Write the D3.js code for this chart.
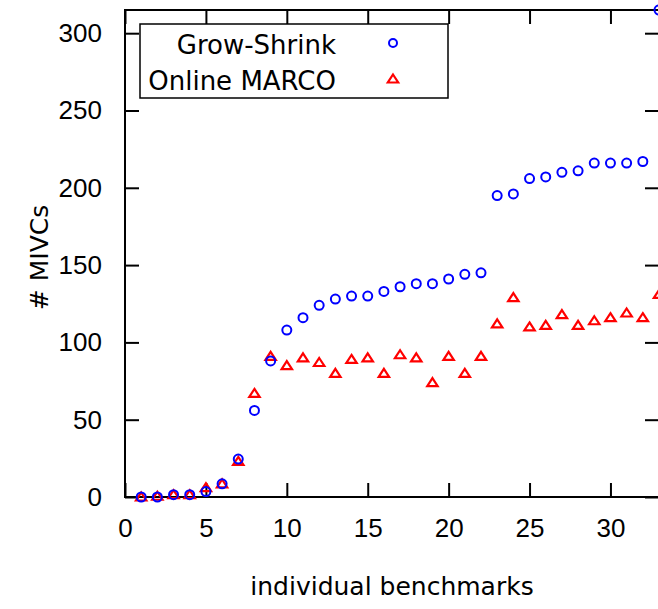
<!DOCTYPE html>
<html>
<head>
<meta charset="utf-8">
<script src="https://cdn.jsdelivr.net/npm/d3@7"></script>
<style>
  body { margin: 0; background: #fff; }
  svg { display: block; font-family: "DejaVu Sans", sans-serif; }
</style>
</head>
<body>
<div class="d3-content"></div>
<script>
const MARGIN = { top: 10, right: -1, bottom: 112, left: 125 };
const SVG_WIDTH = 658;
const SVG_HEIGHT = 609;

const CHART_WIDTH = SVG_WIDTH - MARGIN.left - MARGIN.right;
const CHART_HEIGHT = SVG_HEIGHT - MARGIN.top - MARGIN.bottom;

// benchmark index 1..33
const benchmarks = d3.range(1, 34);

const growShrink = [
  0, 0, 1.5, 1.5, 3.5, 8.5, 24.5, 56, 88, 108,
  116, 124, 128, 130, 130, 133, 136, 138, 138, 141,
  144, 145, 195, 196, 206, 207, 210, 211, 216, 216,
  216, 217, 315
];

const onlineMarco = [
  0, 0.5, 1.5, 1.5, 6, 8.5, 23, 67, 91, 85,
  90, 87, 80, 89, 90, 80, 92, 90, 74, 91,
  80, 91, 112, 129, 110, 111, 118, 111, 114, 116,
  119, 116, 131
];

const xTicks = [0, 5, 10, 15, 20, 25, 30];
const yTicks = [0, 50, 100, 150, 200, 250, 300];

const svg = d3.select('.d3-content')
  .append('svg')
  .attr('width', SVG_WIDTH)
  .attr('height', SVG_HEIGHT);

const xscale = d3.scaleLinear()
  .domain([0, 33])
  .range([0, CHART_WIDTH]);

const yscale = d3.scaleLinear()
  .domain([0, 315])
  .range([CHART_HEIGHT, 0]);

const chart = svg.append('g')
  .attr('transform', `translate(${MARGIN.left}, ${MARGIN.top})`);

// axes, ticks pointing inward (gnuplot style)
const styleAxis = g => {
  g.select('.domain').remove();
  g.selectAll('.tick line').attr('stroke', '#000').attr('stroke-width', 2);
  g.selectAll('.tick text').attr('font-size', 26).attr('fill', '#000');
};

chart.append('g')
  .attr('transform', `translate(0, ${CHART_HEIGHT})`)
  .call(d3.axisBottom(xscale).tickValues(xTicks).tickSize(-14).tickPadding(22))
  .call(styleAxis);

chart.append('g')
  .call(d3.axisTop(xscale).tickValues(xTicks).tickSize(-14).tickFormat(''))
  .call(styleAxis);

chart.append('g')
  .call(d3.axisLeft(yscale).tickValues(yTicks).tickSize(-14).tickPadding(23))
  .call(styleAxis);

chart.append('g')
  .attr('transform', `translate(${CHART_WIDTH}, 0)`)
  .call(d3.axisRight(yscale).tickValues(yTicks).tickSize(-14).tickFormat(''))
  .call(styleAxis);

// border
chart.append('rect')
  .attr('width', CHART_WIDTH)
  .attr('height', CHART_HEIGHT)
  .attr('fill', 'none')
  .attr('stroke', '#000')
  .attr('stroke-width', 2);

// axis labels
svg.append('text')
  .text('individual benchmarks')
  .attr('font-size', 25)
  .attr('text-anchor', 'middle')
  .attr('x', MARGIN.left + CHART_WIDTH / 2)
  .attr('y', 595);

svg.append('text')
  .text('# MIVCs')
  .attr('font-size', 25)
  .attr('text-anchor', 'middle')
  .attr('transform', `translate(48, ${MARGIN.top + CHART_HEIGHT / 2 + 4}) rotate(-90)`);

// flattened triangle like gnuplot's pointtype 8
const triangle = 'M0,-4.5L5.2,3.5L-5.2,3.5Z';

// Online MARCO
chart.append('g')
  .selectAll('path')
  .data(onlineMarco)
  .join('path')
  .attr('d', triangle)
  .attr('transform', (d, i) => `translate(${xscale(benchmarks[i])}, ${yscale(d)})`)
  .attr('fill', 'none')
  .attr('stroke', '#ff0000')
  .attr('stroke-width', 2.2);

// Grow-Shrink
chart.append('g')
  .selectAll('circle')
  .data(growShrink)
  .join('circle')
  .attr('cx', (d, i) => xscale(benchmarks[i]))
  .attr('cy', d => yscale(d))
  .attr('r', 4.5)
  .attr('fill', 'none')
  .attr('stroke', '#0000ff')
  .attr('stroke-width', 2);

// legend
const legend = svg.append('g');
legend.append('rect')
  .attr('x', 140).attr('y', 24)
  .attr('width', 308).attr('height', 74)
  .attr('fill', '#fff')
  .attr('stroke', '#000')
  .attr('stroke-width', 1.5);

legend.append('text')
  .text('Grow-Shrink')
  .attr('font-size', 26)
  .attr('text-anchor', 'end')
  .attr('x', 336).attr('y', 54);

legend.append('text')
  .text('Online MARCO')
  .attr('font-size', 26)
  .attr('text-anchor', 'end')
  .attr('x', 336).attr('y', 90);

legend.append('circle')
  .attr('cx', 393).attr('cy', 43).attr('r', 4)
  .attr('fill', 'none').attr('stroke', '#0000ff').attr('stroke-width', 2);

legend.append('path')
  .attr('d', triangle)
  .attr('transform', 'translate(393, 79)')
  .attr('fill', 'none').attr('stroke', '#ff0000').attr('stroke-width', 2.2);
</script>
</body>
</html>
